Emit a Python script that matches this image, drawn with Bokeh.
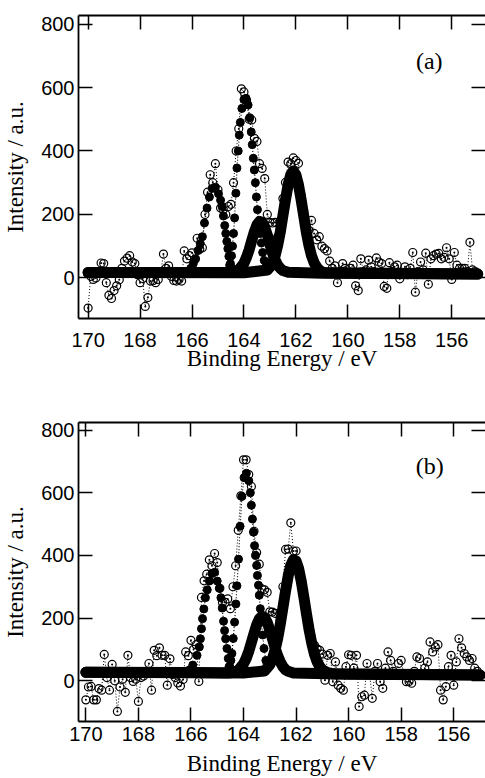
from bokeh.plotting import figure
from bokeh.layouts import column
from bokeh.models import Range1d, LinearAxis, FixedTicker, Label
from bokeh.embed import file_html
from bokeh.resources import INLINE

SANS = "Liberation Sans"
SERIF = "Liberation Serif"

x_ticks = [170, 168, 166, 164, 162, 160, 158, 156]
y_ticks = [0, 200, 400, 600, 800]

energy = [170.0, 169.9, 169.8, 169.7, 169.6, 169.5, 169.4, 169.3, 169.2, 169.1,
          169.0, 168.9, 168.8, 168.7, 168.6, 168.5, 168.4, 168.3, 168.2, 168.1,
          168.0, 167.9, 167.8, 167.7, 167.6, 167.5, 167.4, 167.3, 167.2, 167.1,
          167.0, 166.9, 166.8, 166.7, 166.6, 166.5, 166.4, 166.3, 166.2, 166.1,
          166.0, 165.9, 165.8, 165.7, 165.6, 165.5, 165.4, 165.3, 165.2, 165.1,
          165.0, 164.9, 164.8, 164.7, 164.6, 164.5, 164.4, 164.3, 164.2, 164.1,
          164.0, 163.9, 163.8, 163.7, 163.6, 163.5, 163.4, 163.3, 163.2, 163.1,
          163.0, 162.9, 162.8, 162.7, 162.6, 162.5, 162.4, 162.3, 162.2, 162.1,
          162.0, 161.9, 161.8, 161.7, 161.6, 161.5, 161.4, 161.3, 161.2, 161.1,
          161.0, 160.9, 160.8, 160.7, 160.6, 160.5, 160.4, 160.3, 160.2, 160.1,
          160.0, 159.9, 159.8, 159.7, 159.6, 159.5, 159.4, 159.3, 159.2, 159.1,
          159.0, 158.9, 158.8, 158.7, 158.6, 158.5, 158.4, 158.3, 158.2, 158.1,
          158.0, 157.9, 157.8, 157.7, 157.6, 157.5, 157.4, 157.3, 157.2, 157.1,
          157.0, 156.9, 156.8, 156.7, 156.6, 156.5, 156.4, 156.3, 156.2, 156.1,
          156.0, 155.9, 155.8, 155.7, 155.6, 155.5, 155.4, 155.3, 155.2, 155.1,
          155.0]

# ---- panel (a) ----
raw_a = [-95, 5, -5, 0, 20, 47, 45, -15, -55, -65,
         -40, -25, -6, 30, 53, 62, 70, 50, 45, 10,
         -15, -2, -90, -62, -10, -9, -15, -5, 20, 75,
         30, 38, 5, -8, -10, -5, -10, 85, 60, 70,
         79, 58, 125, 90, 95, 200, 270, 325, 300, 360,
         278, 220, 215, 200, 225, 232, 300, 400, 470, 596,
         586, 560, 500, 498, 440, 430, 360, 345, 313, 200,
         175, 173, 175, 130, 180, 250, 301, 365, 360, 378,
         370, 361, 260, 210, 160, 150, 181, 140, 120, 130,
         100, 92, 85, 53, 30, 38, -15, 20, 45, 30,
         15, 30, 40, -25, -40, 60, 20, 25, 56, 35,
         20, 63, 50, 45, -27, -33, 48, 20, 35, 40,
         -3, 15, 35, 10, 30, 80, -45, 20, 50, 25,
         78, -20, 60, 70, 75, 77, 60, 65, 95, 60,
         -5, 80, 40, 30, 30, 30, 20, 112, 25, 20,
         15]

comp1_a_e = [166.05, 165.95, 165.86, 165.77, 165.68, 165.6, 165.52, 165.42, 165.33,
             165.22, 165.1, 164.98, 164.9, 164.84, 164.79, 164.74, 164.7,
             164.66, 164.62, 164.58, 164.52, 164.45]
comp1_a_v = [30, 45, 60, 86, 108, 130, 173, 220, 255,
             282, 286, 265, 245, 225, 195, 165, 140,
             115, 92, 68, 45, 30]
comp2_a_e = [164.55, 164.48, 164.44, 164.4, 164.36, 164.31, 164.27, 164.22, 164.18, 164.14,
             164.08, 164.0, 163.92, 163.84, 163.78, 163.72, 163.68, 163.64, 163.6,
             163.56, 163.52, 163.48, 163.43, 163.38, 163.33, 163.28, 163.22, 163.15]
comp2_a_v = [40, 70, 100, 140, 189, 267, 346, 400, 450, 490,
             534, 562, 566, 545, 505, 460, 420, 377, 340,
             300, 255, 215, 175, 140, 110, 80, 55, 35]

fitA_a_e = [170.0, 166.0, 164.6, 164.4, 164.2, 164.0, 163.9, 163.8, 163.7, 163.6, 163.5, 163.4,
            163.3, 163.2, 163.1, 163.0, 162.9, 162.8, 162.7, 162.6, 162.5, 162.3, 161.0, 155.0]
fitA_a_v = [17, 17, 17, 19, 25, 46, 65, 89, 118, 145, 167, 178,
            175, 159, 135, 106, 78, 56, 40, 30, 23, 18, 15, 12]
fitB_a_e = [170.0, 164.0, 163.1, 163.0, 162.9, 162.8, 162.7, 162.6, 162.5, 162.4, 162.3, 162.2, 162.1,
            162.0, 161.9, 161.8, 161.7, 161.6, 161.5, 161.4, 161.3, 161.2, 161.1, 161.0, 160.8, 155.0]
fitB_a_v = [17, 16, 25, 34, 48, 70, 103, 145, 196, 247, 293, 325, 337,
            325, 293, 247, 196, 145, 103, 70, 48, 34, 25, 19, 16, 12]

# ---- panel (b) ----
raw_b = [-61, -20, -18, -61, -61, -25, -30, 84, 10, -30,
         52, 0, -98, -20, 5, -37, 81, 10, -2, 5,
         -66, 10, 15, 30, 55, -30, 97, 80, 105, 81,
         81, -14, 70, 20, 10, -7, -17, 4, 92, 80,
         129, 100, 115, -2, 266, 319, 340, 386, 367, 406,
         377, 295, 250, 250, 261, 230, 300, 367, 480, 590,
         705, 705, 658, 620, 477, 409, 372, 293, 290, 282,
         220, 219, 215, 160, 200, 300, 419, 420, 504, 414,
         414, 350, 310, 262, 210, 160, 122, 113, 102, 97,
         85, 2, 81, 87, -3, 60, -14, -24, -30, 45,
         83, 81, 40, 81, -82, -51, -46, 55, 20, -56,
         30, 55, -3, -24, 40, 92, 65, 30, 20, 55,
         65, 20, -3, -2, -8, 30, 76, 71, 20, 40,
         60, 124, 92, 108, 115, -30, -61, -19, 45, 81,
         -14, 60, 134, 105, 87, 76, 65, 71, 40, 30,
         20]

comp1_b_e = [166.05, 165.93, 165.77, 165.68, 165.64, 165.6, 165.56, 165.51, 165.45, 165.38,
             165.3, 165.2, 165.1, 165.0, 164.92, 164.86, 164.81, 164.76, 164.72,
             164.68, 164.63, 164.58, 164.52]
comp1_b_v = [35, 50, 81, 108, 134, 166, 198, 229, 265, 290,
             318, 342, 346, 318, 295, 265, 232, 190, 160,
             134, 103, 71, 45]
comp2_b_e = [164.55, 164.48, 164.44, 164.39, 164.34, 164.29, 164.25, 164.19, 164.13, 164.06,
             163.98, 163.89, 163.8, 163.74, 163.7, 163.66, 163.62, 163.58, 163.54,
             163.5, 163.47, 163.43, 163.4, 163.36, 163.32, 163.27, 163.22, 163.15, 163.08]
comp2_b_v = [45, 65, 87, 135, 187, 245, 303, 388, 493, 588,
             648, 662, 638, 600, 560, 516, 474, 431, 400,
             368, 336, 305, 273, 230, 188, 146, 103, 65, 40]

fitA_b_e = [170.0, 166.0, 164.6, 164.4, 164.2, 164.0, 163.9, 163.8, 163.7, 163.6, 163.5, 163.4, 163.3,
            163.2, 163.1, 163.0, 162.9, 162.8, 162.7, 162.6, 162.5, 162.4, 162.3, 162.1, 160.0, 155.0]
fitA_b_v = [27, 26, 25, 26, 33, 54, 71, 94, 122, 151, 178, 197, 206,
            202, 187, 162, 134, 105, 80, 60, 45, 35, 30, 25, 21, 18]
fitB_b_e = [170.0, 164.0, 163.2, 163.0, 162.9, 162.8, 162.7, 162.6, 162.5, 162.4, 162.3, 162.2, 162.1,
            162.0, 161.9, 161.8, 161.7, 161.6, 161.5, 161.4, 161.3, 161.2, 161.1, 161.0, 160.8, 160.6, 155.0]
fitB_b_v = [27, 25, 31, 51, 70, 98, 135, 181, 233, 286, 334, 369, 386,
            382, 357, 316, 265, 212, 161, 119, 85, 61, 45, 35, 26, 22, 18]


def style_axis(ax, ticks, show_labels=True, show_line=True):
    ax.ticker = FixedTicker(ticks=ticks)
    ax.major_tick_in = 14
    ax.major_tick_out = 0
    ax.minor_tick_in = 0
    ax.minor_tick_out = 0
    ax.major_tick_line_width = 1.5
    ax.major_tick_line_color = "black"
    ax.axis_line_width = 1.8
    ax.axis_line_color = "black" if show_line else None
    if show_labels:
        ax.major_label_text_font = SANS
        ax.major_label_text_font_size = "20px"
        ax.major_label_text_color = "black"
    else:
        ax.major_label_text_font_size = "0px"
        ax.major_label_overrides = {t: "" for t in ticks}
        ax.major_label_standoff = 0


def make_panel(tag, raw, c1e, c1v, c2e, c2v, fAe, fAv, fBe, fBv,
               xr, yr, height, top, bottom, tick_standoff, label_standoff, lab_xy):
    p = figure(width=485, height=height, x_range=Range1d(*xr), y_range=Range1d(*yr),
               output_backend="svg", toolbar_location=None,
               x_axis_location=None, y_axis_location=None,
               min_border_left=76, min_border_right=0,
               min_border_top=top, min_border_bottom=bottom)
    p.outline_line_color = None
    p.background_fill_color = "white"
    p.border_fill_color = "white"
    for g in p.grid:
        g.visible = False

    bottom_ax = LinearAxis(axis_label="Binding Energy / eV")
    style_axis(bottom_ax, x_ticks)
    bottom_ax.major_label_standoff = tick_standoff
    bottom_ax.axis_label_standoff = label_standoff
    bottom_ax.axis_label_text_font = SERIF
    bottom_ax.axis_label_text_font_size = "23px"
    bottom_ax.axis_label_text_font_style = "normal"
    bottom_ax.axis_label_text_color = "black"
    p.add_layout(bottom_ax, "below")

    top_ax = LinearAxis()
    style_axis(top_ax, x_ticks, show_labels=False)
    p.add_layout(top_ax, "above")

    left_ax = LinearAxis(axis_label="Intensity / a.u.")
    style_axis(left_ax, y_ticks)
    left_ax.major_label_standoff = 4
    left_ax.axis_label_standoff = 10
    left_ax.axis_label_text_font = SERIF
    left_ax.axis_label_text_font_size = "23px"
    left_ax.axis_label_text_font_style = "normal"
    left_ax.axis_label_text_color = "black"
    p.add_layout(left_ax, "left")

    right_ax = LinearAxis()
    style_axis(right_ax, y_ticks, show_labels=False, show_line=False)
    p.add_layout(right_ax, "right")

    # fitted components (thick)
    for e, v in ((fAe, fAv), (fBe, fBv)):
        p.line(e, v, line_width=11, line_color="black", line_cap="round", line_join="round")

    # fitted components (dotted line with filled dots)
    for e, v in ((c1e, c1v), (c2e, c2v)):
        p.line(e, v, line_width=1.2, line_color="black", line_dash="1 2")
        p.scatter(e, v, marker="circle", size=8, fill_color="black", line_color="black")

    # raw data
    p.line(energy, raw, line_width=1, line_color="black", line_dash="1 2")
    p.scatter(energy, raw, marker="circle_dot", size=8, fill_color=None,
              line_color="black", line_width=1.2)

    p.add_layout(Label(x=lab_xy[0], y=lab_xy[1], text=tag, text_font=SERIF,
                       text_font_size="24px", text_color="black",
                       text_baseline="middle", text_align="left"))
    return p


p1 = make_panel("(a)", raw_a, comp1_a_e, comp1_a_v, comp2_a_e, comp2_a_v,
                fitA_a_e, fitA_a_v, fitB_a_e, fitB_a_v,
                xr=(170.37, 154.70), yr=(-128, 827), height=390, top=15, bottom=72,
                tick_standoff=14, label_standoff=-4, lab_xy=(157.38, 685))
p2 = make_panel("(b)", raw_b, comp1_b_e, comp1_b_v, comp2_b_e, comp2_b_v,
                fitA_b_e, fitA_b_v, fitB_b_e, fitB_b_v,
                xr=(170.28, 154.79), yr=(-130, 824), height=388, top=32, bottom=55,
                tick_standoff=5, label_standoff=7, lab_xy=(157.44, 686))

layout = column(p1, p2)
open("out.html", "w").write(file_html(layout, INLINE))
